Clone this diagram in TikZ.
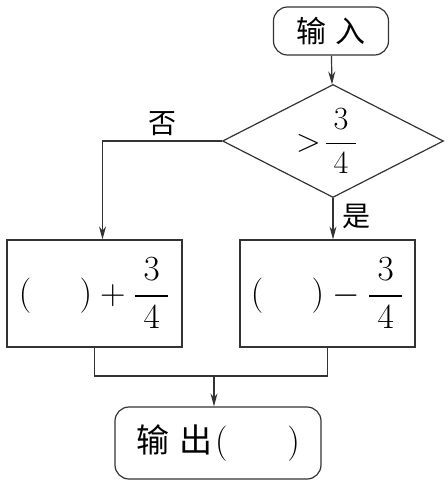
\documentclass[tikz,border=0pt]{standalone}
\usepackage{amsmath}
\usepackage{graphicx}
\usepackage{fontspec}
\newfontfamily\cjk{Noto Sans CJK SC}
\newcommand{\mathtxt}[2][1.42]{\scalebox{#1}{\Huge$#2$}}
\newcommand{\wfrac}[2]{\dfrac{\hspace{6pt}#1\hspace{6pt}}{#2}}
\usetikzlibrary{shapes.geometric, arrows.meta}

\begin{document}
\begin{tikzpicture}[x=1pt, y=-1pt]

\tikzset{termbox/.style={shape=rectangle, rounded corners=14, draw=black!80, line width=1.2, font=\cjk\fontsize{30}{36}\selectfont}}
\tikzset{opbox/.style={shape=rectangle, draw=black!80, line width=1.2, minimum width=175, minimum height=107, inner sep=0}}
\tikzset{test/.style={shape=diamond, draw=black!80, line width=1.2, minimum width=221, minimum height=113, inner sep=0}}
\tikzset{flow/.style={-{Stealth[length=13, width=7]}, draw=black!80, line width=1.2}}
\tikzset{plain/.style={draw=black!80, line width=1.2}}
\tikzset{edgi/.style={font=\cjk\fontsize{28}{32}\selectfont}}

\useasboundingbox (0,0) rectangle (448,483);

\node[termbox, minimum width=115, minimum height=48, inner sep=0] (in) at (331,31) {输\hspace{10pt}入};
\node[test, label={[xshift=-6pt]center:\mathtxt[1.3]{>\!\wfrac{3}{4}}}] (dec) at (333,141) {};
\node[opbox] (add) at (94.5,293.5) {\mathtxt{(\hspace{34pt})+\wfrac{3}{4}}};
\node[opbox] (sub) at (327.5,293.5) {\mathtxt{(\hspace{34pt})-\wfrac{3}{4}}};
\node[termbox, minimum width=206, minimum height=72, inner sep=0, font=\cjk\fontsize{33}{38}\selectfont] (out) at (218,443) {输\hspace{10pt}出\hspace{3pt}\mathtxt{(\hspace{42pt})}};
\coordinate (merge) at (214,376);

\draw[flow] (in) -- (dec);
\draw[flow] (dec.west) -| node[edgi, above=1pt, pos=0.25] {否} ([xshift=8]add.north);
\draw[flow] (dec.south) -- node[edgi, right, pos=0.45, xshift=6] {是} (dec.south |- sub.north);
\draw[plain] (add.south) |- (merge) -| (sub.south);
\draw[flow] (merge) -- (merge |- out.north);

\end{tikzpicture}
\end{document}
